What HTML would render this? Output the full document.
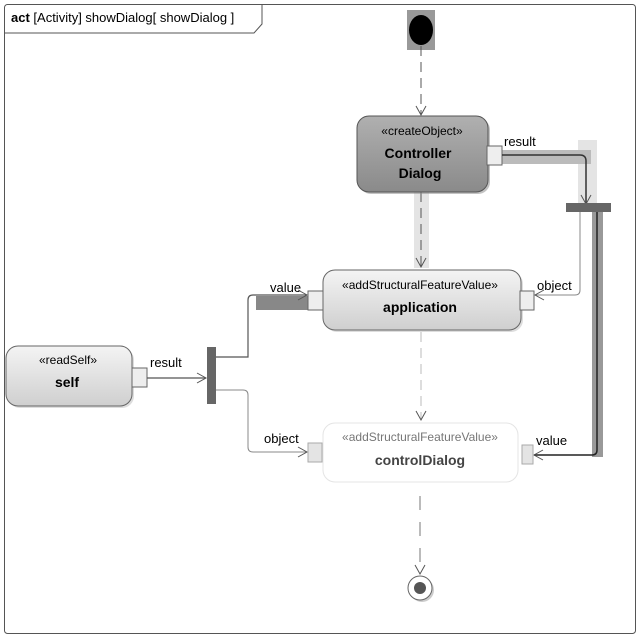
<!DOCTYPE html>
<html><head><style>body{margin:0;background:#fff}svg{display:block;font-family:"Liberation Sans",sans-serif}</style></head><body>
<svg width="640" height="640" viewBox="0 0 640 640">
<defs>
<linearGradient id="g1" x1="0" y1="0" x2="0" y2="1"><stop offset="0" stop-color="#f4f4f4"/><stop offset="1" stop-color="#cfcfcf"/></linearGradient>
<linearGradient id="g2" x1="0" y1="0" x2="0" y2="1"><stop offset="0" stop-color="#b0b0b0"/><stop offset="1" stop-color="#8a8a8a"/></linearGradient>
<marker id="a" markerWidth="12" markerHeight="12" refX="10" refY="6" orient="auto" markerUnits="userSpaceOnUse"><path d="M1,1 L10,6 L1,11" fill="none" stroke="#555" stroke-width="1"/></marker>
</defs>
<rect x="4.5" y="4.5" width="631" height="629" rx="3" fill="#fff" stroke="#555"/>
<path d="M4.5,33 H254 L262,24 V4.5" fill="none" stroke="#555"/>
<text x="11" y="22" font-size="13"><tspan font-weight="bold">act</tspan> [Activity] showDialog[ showDialog ]</text>
<!-- initial -->
<rect x="407" y="10" width="28" height="40" fill="#999"/>
<ellipse cx="421" cy="30" rx="12" ry="15" fill="#000"/>
<line x1="421" y1="46" x2="421" y2="115" stroke="#555" stroke-dasharray="10,6" marker-end="url(#a)"/>
<!-- controller -->
<rect x="414" y="192" width="15" height="76" fill="#e4e4e4"/>
<line x1="421" y1="192" x2="421" y2="267" stroke="#555" stroke-dasharray="10,6" marker-end="url(#a)"/>
<rect x="359" y="118" width="131" height="76" rx="12" fill="#888" opacity="0.5"/>
<rect x="357" y="116" width="131" height="76" rx="12" fill="url(#g2)" stroke="#555"/>
<text x="422" y="135" font-size="12" text-anchor="middle">«createObject»</text>
<text x="418" y="158" font-size="14" font-weight="bold" text-anchor="middle">Controller</text>
<text x="420" y="178" font-size="14" font-weight="bold" text-anchor="middle">Dialog</text>
<rect x="578" y="140" width="19" height="64" fill="#e4e4e4"/>
<rect x="502" y="150" width="89" height="14" fill="#bbb"/>
<rect x="487" y="146" width="15" height="19" fill="#eee" stroke="#666"/>
<text x="504" y="146" font-size="13">result</text>
<path d="M502,155 H580 Q586,155 586,161 V204" fill="none" stroke="#333" stroke-width="1.5" marker-end="url(#a)"/>
<rect x="566" y="203" width="45" height="9" fill="#666"/>
<!-- right long line -->
<rect x="592" y="212" width="11" height="245" fill="#999"/>
<path d="M597,212 V450 Q597,455 592,455 H534" fill="none" stroke="#222" stroke-width="1.5" marker-end="url(#a)"/>
<path d="M580,212 V290 Q580,295 575,295 H535" fill="none" stroke="#888" marker-end="url(#a)"/>
<!-- application -->
<rect x="325" y="272" width="198" height="60" rx="12" fill="#bbb" opacity="0.5"/>
<rect x="323" y="270" width="198" height="60" rx="12" fill="url(#g1)" stroke="#666"/>
<text x="420" y="289" font-size="12" text-anchor="middle">«addStructuralFeatureValue»</text>
<text x="420" y="312" font-size="14" font-weight="bold" text-anchor="middle">application</text>
<rect x="520" y="291" width="14" height="19" fill="#eee" stroke="#666"/>
<text x="537" y="290" font-size="13">object</text>
<rect x="256" y="296" width="52" height="14" fill="#888"/>
<rect x="308" y="291" width="15" height="19" fill="#eee" stroke="#666"/>
<text x="270" y="292" font-size="13">value</text>
<path d="M216,357 H248 V300 Q248,295 253,295 H307" fill="none" stroke="#555" stroke-width="1.2" marker-end="url(#a)"/>
<line x1="421" y1="332" x2="421" y2="420" stroke="#bbb" stroke-dasharray="10,6" marker-end="url(#a)"/>
<!-- readSelf -->
<rect x="8" y="348" width="126" height="60" rx="12" fill="#bbb" opacity="0.5"/>
<rect x="6" y="346" width="126" height="60" rx="12" fill="url(#g1)" stroke="#666"/>
<text x="68" y="364" font-size="12" text-anchor="middle">«readSelf»</text>
<text x="67" y="387" font-size="14" font-weight="bold" text-anchor="middle">self</text>
<rect x="132" y="368" width="15" height="19" fill="#eee" stroke="#666"/>
<text x="150" y="367" font-size="13">result</text>
<line x1="147" y1="378" x2="206" y2="378" stroke="#555" stroke-width="1.2" marker-end="url(#a)"/>
<rect x="207" y="347" width="9" height="57" fill="#666"/>
<path d="M216,390 H243 Q248,390 248,395 V447 Q248,452 253,452 H307" fill="none" stroke="#888" marker-end="url(#a)"/>
<text x="264" y="443" font-size="13">object</text>
<!-- controlDialog -->
<rect x="323" y="423" width="195" height="59" rx="12" fill="#fff" stroke="#e4e4e4"/>
<text x="420" y="441" font-size="12" fill="#777" text-anchor="middle">«addStructuralFeatureValue»</text>
<text x="420" y="465" font-size="14" font-weight="bold" fill="#444" text-anchor="middle">controlDialog</text>
<rect x="308" y="443" width="14" height="19" fill="#e4e4e4" stroke="#aaa"/>
<rect x="522" y="445" width="11" height="19" fill="#e4e4e4" stroke="#aaa"/>
<text x="536" y="445" font-size="13">value</text>
<line x1="420" y1="496" x2="420" y2="574" stroke="#777" stroke-dasharray="14,12" marker-end="url(#a)"/>
<circle cx="422" cy="590" r="12" fill="#ccc"/>
<circle cx="420" cy="588" r="12" fill="#fff" stroke="#666"/>
<circle cx="420" cy="588" r="6" fill="#555"/>
</svg>
</body></html>
